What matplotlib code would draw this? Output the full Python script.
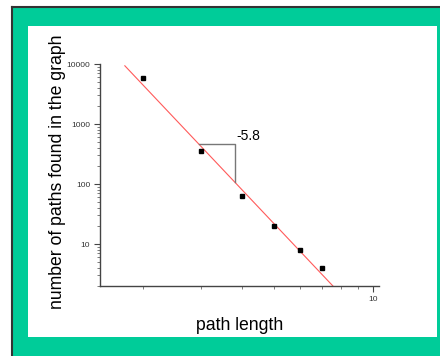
import numpy as np
import matplotlib
matplotlib.use("Agg")
import matplotlib.pyplot as plt
from matplotlib.patches import Rectangle
from matplotlib.lines import Line2D
from matplotlib.ticker import LogLocator, NullFormatter, FixedLocator, FixedFormatter

plt.rcParams['font.family'] = ['Liberation Sans', 'DejaVu Sans']

path_length = [2, 3, 4, 5, 6, 7]
num_paths = [5800, 350, 63, 20, 8, 4]
fit_slope = -5.8
fit_x = [1.76, 8.0]
fit_amp = 2.48e5
tri_x = [2.96, 3.81]
tri_y = [464, 108]
slope_label = "-5.8"
y_ticks = [10, 100, 1000, 10000]
y_ticklabels = ["10", "100", "1000", "10000"]
x_ticks = [10]
x_ticklabels = ["10"]

W, H = 440, 356
fig = plt.figure(figsize=(W / 100, H / 100), dpi=100, facecolor='white')

green = '#00CC99'
# green frame
fig.patches.append(Rectangle((12 / W, 0), 1 - 12 / W, 1 - 7 / H, transform=fig.transFigure,
                             facecolor=green, edgecolor='none', zorder=-3))
fig.lines.append(Line2D([11.5 / W, 11.5 / W], [0, 1 - 6.5 / H], transform=fig.transFigure,
                        color='#333333', lw=1.5, zorder=-2))
fig.lines.append(Line2D([11.5 / W, 1], [1 - 6.5 / H, 1 - 6.5 / H], transform=fig.transFigure,
                        color='#333333', lw=1.5, zorder=-2))
# white panel
fig.patches.append(Rectangle((28 / W, 1 - 337 / H), (437 - 28) / W, (337 - 26) / H,
                             transform=fig.transFigure, facecolor='white', edgecolor='none', zorder=-1))

ax = fig.add_axes([100 / W, 1 - 286 / H, (379 - 100) / W, (286 - 63) / H])
ax.set_zorder(5)
ax.patch.set_alpha(0)
ax.set_xscale('log')
ax.set_yscale('log')
ax.set_xlim(1.479, 10.43)
ax.set_ylim(2.0, 10400)

fx = np.array(fit_x)
ax.plot(fx, fit_amp * fx ** fit_slope, color='#ff5a5a', lw=0.8, zorder=2)
ax.plot(path_length, num_paths, 's', color='black', ms=3, zorder=3)
ax.plot([tri_x[0], tri_x[1], tri_x[1]], [tri_y[0], tri_y[0], tri_y[1]], color='#777777', lw=1, zorder=2)
ax.text(3.84, 640, slope_label, fontsize=10, ha='left', va='center', color='black')

for s in ['top', 'right']:
    ax.spines[s].set_visible(False)
for s in ['left', 'bottom']:
    ax.spines[s].set_color('#444444')
    ax.spines[s].set_linewidth(1)
ax.spines['left'].set_bounds(2.0, 10100)

ax.yaxis.set_major_locator(FixedLocator(y_ticks))
ax.yaxis.set_major_formatter(FixedFormatter(y_ticklabels))
ax.yaxis.set_minor_locator(LogLocator(base=10, subs=np.arange(2, 10)))
ax.yaxis.set_minor_formatter(NullFormatter())
ax.xaxis.set_major_locator(FixedLocator(x_ticks))
ax.xaxis.set_major_formatter(FixedFormatter(x_ticklabels))
ax.xaxis.set_minor_locator(LogLocator(base=10, subs=np.arange(2, 10)))
ax.xaxis.set_minor_formatter(NullFormatter())

ax.tick_params(axis='both', which='major', labelsize=6, colors='#444444', labelcolor='#333333',
               length=4, width=0.8, pad=3)
ax.tick_params(axis='both', which='minor', colors='#666666', length=2.5, width=0.6)

ax.set_ylabel("number of paths found in the graph", fontsize=12.7)
ax.set_xlabel("path length", fontsize=12.7)
ax.yaxis.set_label_coords(57 / W, 1 - 172 / H, transform=fig.transFigure)
ax.xaxis.set_label_coords(240 / W, 1 - 326 / H, transform=fig.transFigure)
ax.xaxis.label.set_va('center')
ax.yaxis.label.set_va('center')

fig.savefig("out.png", dpi=100, facecolor='white')
